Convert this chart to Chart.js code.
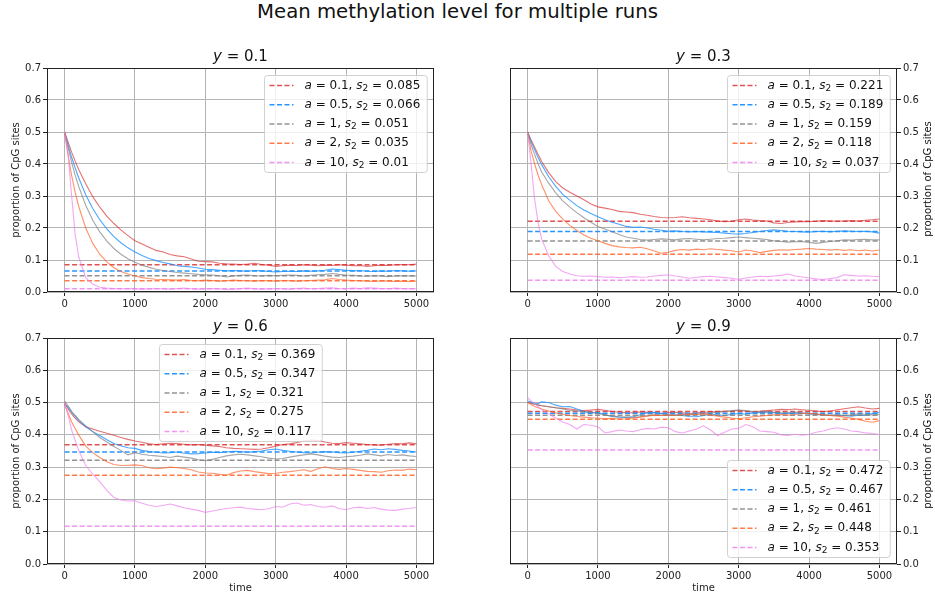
<!DOCTYPE html>
<html>
<head>
<meta charset="utf-8">
<script src="https://cdn.jsdelivr.net/npm/chart.js@4.4.1/dist/chart.umd.min.js"></script>
<style>
  body { margin: 0; background: #fff; width: 935px; height: 599px; position: relative; overflow: hidden; font-family: "DejaVu Sans", sans-serif; color: #111; }
  #sup { position: absolute; left: 0; top: 0px; width: 915px; text-align: center; font-size: 19.7px; line-height: 24px; }
  .ttl { position: absolute; width: 200px; text-align: center; font-size: 15px; line-height: 18px; }
  .ylab { position: absolute; width: 240px; text-align: center; font-size: 10px; line-height: 12px; transform: rotate(-90deg); }
  canvas { position: absolute; }
</style>
</head>
<body>
<div id="sup">Mean methylation level for multiple runs</div>

<script>
// time axis of the runs
const times = [0, 50, 100, 150, 200,
  300, 400, 500, 600, 700, 800, 900, 1000,
  1100, 1200, 1300, 1400, 1500, 1600, 1700, 1800, 1900, 2000,
  2100, 2200, 2300, 2400, 2500, 2600, 2700, 2800, 2900, 3000,
  3100, 3200, 3300, 3400, 3500, 3600, 3700, 3800, 3900, 4000,
  4100, 4200, 4300, 4400, 4500, 4600, 4700, 4800, 4900, 5000];

const xTicks = [0, 1000, 2000, 3000, 4000, 5000];
const yTicks = [0, 0.1, 0.2, 0.3, 0.4, 0.5, 0.6, 0.7];

const yValues = ['0.1', '0.3', '0.6', '0.9'];
const aLabels = ['0.1', '0.5', '1', '2', '10'];

// s2 (dashed reference levels) per panel
const s2_y01 = [0.085, 0.066, 0.051, 0.035, 0.01];
const s2_y03 = [0.221, 0.189, 0.159, 0.118, 0.037];
const s2_y06 = [0.369, 0.347, 0.321, 0.275, 0.117];
const s2_y09 = [0.472, 0.467, 0.461, 0.448, 0.353];

// ---- y = 0.1 ----
const y01_a01 = [.500,.468,.437,.409,.383,
  .338,.298,.265,.237,.214,.194,.176,.160,
  .150,.140,.130,.125,.117,.113,.110,.103,.096,.095,
  .094,.090,.088,.087,.086,.087,.090,.086,.084,.080,
  .082,.084,.083,.085,.084,.082,.084,.083,.085,.084,
  .082,.083,.080,.082,.084,.083,.085,.086,.085,.087];
const y01_a05 = [.500,.459,.421,.388,.357,
  .304,.261,.226,.197,.173,.154,.138,.125,
  .114,.105,.098,.092,.088,.082,.080,.078,.075,.071,
  .070,.068,.066,.067,.066,.065,.067,.066,.064,.063,
  .064,.065,.064,.066,.065,.066,.068,.072,.070,.068,
  .066,.067,.065,.064,.066,.065,.067,.066,.065,.066];
const y01_a1 = [.500,.450,.405,.365,.330,
  .271,.224,.188,.159,.136,.118,.104,.093,
  .084,.077,.071,.067,.064,.061,.059,.057,.055,.054,
  .053,.051,.047,.050,.052,.053,.051,.050,.052,.051,
  .052,.053,.052,.050,.052,.054,.055,.058,.055,.053,
  .052,.050,.049,.051,.050,.048,.050,.051,.050,.050];
const y01_a2 = [.500,.427,.364,.312,.268,
  .200,.152,.118,.094,.076,.064,.056,.050,
  .045,.042,.040,.039,.038,.037,.039,.036,.035,.037,
  .036,.034,.035,.037,.036,.035,.034,.036,.035,.034,
  .036,.035,.034,.035,.036,.037,.038,.042,.039,.037,
  .036,.035,.034,.033,.035,.034,.033,.034,.033,.034];
const y01_a10 = [.500,.430,.300,.180,.110,
  .045,.024,.015,.012,.011,.010,.011,.010,
  .009,.010,.011,.010,.009,.011,.012,.010,.009,.010,
  .011,.010,.008,.009,.011,.012,.010,.009,.010,.011,
  .010,.009,.011,.012,.010,.011,.012,.013,.011,.010,
  .012,.011,.013,.012,.011,.010,.012,.011,.010,.010];

// ---- y = 0.3 ----
const y03_a01 = [.500,.475,.452,.430,.408,
  .373,.345,.325,.312,.300,.288,.275,.266,
  .262,.258,.252,.250,.248,.243,.240,.236,.233,.232,
  .233,.235,.232,.230,.228,.226,.222,.220,.221,.226,
  .228,.225,.223,.222,.216,.214,.217,.219,.220,.220,
  .221,.223,.222,.221,.222,.223,.222,.224,.226,.228];
const y03_a05 = [.500,.470,.445,.420,.398,
  .360,.330,.305,.287,.270,.256,.245,.235,
  .226,.218,.212,.205,.202,.203,.200,.196,.193,.190,
  .191,.189,.188,.189,.188,.187,.186,.184,.182,.181,
  .183,.186,.189,.192,.194,.192,.190,.189,.188,.187,
  .189,.190,.188,.190,.191,.190,.189,.190,.188,.184];
const y03_a1 = [.500,.460,.430,.400,.375,
  .340,.310,.285,.265,.248,.232,.218,.205,
  .197,.188,.180,.172,.168,.164,.162,.164,.166,.165,
  .163,.166,.167,.165,.163,.165,.167,.168,.170,.172,
  .170,.168,.166,.164,.160,.158,.156,.157,.158,.155,
  .152,.155,.158,.160,.163,.162,.164,.165,.163,.163];
const y03_a2 = [.500,.440,.400,.365,.335,
  .285,.252,.228,.208,.192,.178,.168,.160,
  .152,.145,.141,.139,.138,.140,.135,.128,.121,.124,
  .130,.133,.131,.134,.132,.135,.133,.131,.129,.125,
  .131,.128,.123,.127,.130,.132,.131,.133,.134,.136,
  .134,.133,.131,.133,.130,.132,.129,.131,.128,.131];
const y03_a10 = [.500,.400,.290,.215,.165,
  .113,.080,.064,.056,.051,.049,.050,.048,
  .046,.047,.045,.046,.048,.046,.047,.050,.052,.054,
  .050,.047,.043,.046,.048,.049,.047,.045,.043,.040,
  .044,.047,.049,.048,.050,.052,.056,.050,.047,.044,
  .041,.039,.042,.045,.054,.052,.050,.051,.049,.048];

// ---- y = 0.6 ----
const y06_a01 = [.500,.480,.465,.452,.440,
  .425,.418,.411,.405,.399,.392,.386,.381,
  .377,.372,.370,.372,.374,.373,.371,.369,.370,.368,
  .366,.364,.360,.358,.357,.356,.355,.356,.360,.365,
  .370,.372,.376,.381,.384,.382,.378,.374,.373,.376,
  .374,.372,.370,.369,.368,.371,.373,.372,.375,.372];
const y06_a05 = [.495,.485,.470,.458,.445,
  .425,.410,.398,.385,.373,.366,.360,.358,
  .352,.348,.346,.344,.345,.347,.343,.341,.342,.344,
  .346,.345,.347,.349,.348,.346,.348,.350,.354,.356,
  .352,.349,.347,.345,.344,.346,.348,.347,.345,.344,
  .346,.349,.352,.356,.354,.357,.355,.352,.350,.347];
const y06_a1 = [.505,.490,.473,.460,.448,
  .428,.410,.392,.378,.364,.352,.338,.345,
  .340,.337,.335,.333,.330,.334,.331,.328,.323,.320,
  .324,.330,.335,.338,.340,.338,.335,.332,.328,.325,
  .327,.331,.335,.338,.341,.338,.334,.331,.330,.332,
  .334,.337,.341,.338,.335,.339,.336,.338,.335,.333];
const y06_a2 = [.495,.467,.440,.420,.400,
  .365,.345,.330,.317,.308,.305,.306,.307,
  .305,.298,.295,.297,.300,.298,.296,.292,.285,.282,
  .281,.278,.275,.283,.288,.290,.286,.283,.280,.281,
  .284,.286,.289,.292,.287,.295,.301,.296,.293,.296,
  .293,.290,.287,.286,.284,.289,.291,.290,.294,.292];
const y06_a10 = [.500,.460,.415,.383,.352,
  .305,.278,.255,.228,.206,.198,.195,.196,
  .188,.182,.178,.181,.186,.180,.174,.170,.166,.160,
  .164,.168,.172,.174,.176,.172,.170,.168,.171,.178,
  .176,.186,.189,.182,.184,.178,.176,.180,.172,.168,
  .174,.176,.172,.175,.170,.167,.166,.170,.172,.175];

// ---- y = 0.9 ----
const y09_a01 = [.500,.498,.495,.492,.490,
  .487,.484,.482,.480,.477,.475,.477,.479,
  .476,.472,.470,.468,.469,.471,.470,.468,.467,.469,
  .470,.468,.466,.468,.470,.471,.472,.473,.474,.476,
  .474,.471,.473,.475,.477,.479,.478,.480,.478,.476,
  .474,.472,.474,.478,.481,.484,.487,.483,.480,.482];
const y09_a05 = [.505,.502,.498,.497,.502,
  .500,.492,.487,.488,.480,.472,.468,.470,
  .462,.457,.455,.454,.456,.462,.468,.470,.466,.462,
  .461,.460,.457,.456,.460,.463,.462,.460,.463,.466,
  .464,.468,.470,.471,.469,.467,.466,.468,.467,.465,
  .463,.462,.460,.462,.460,.458,.461,.460,.466,.470];
const y09_a1 = [.500,.498,.495,.493,.490,
  .487,.484,.480,.476,.474,.472,.470,.466,
  .462,.458,.456,.455,.454,.456,.459,.462,.461,.460,
  .461,.463,.462,.464,.466,.468,.470,.472,.475,.477,
  .475,.472,.470,.472,.470,.468,.469,.471,.468,.466,
  .464,.462,.460,.461,.459,.462,.465,.463,.462,.463];
const y09_a2 = [.500,.494,.488,.484,.480,
  .474,.468,.464,.460,.457,.455,.453,.452,
  .450,.451,.449,.450,.452,.455,.458,.461,.460,.462,
  .460,.463,.465,.463,.465,.462,.458,.455,.452,.450,
  .453,.456,.458,.460,.462,.463,.461,.463,.466,.467,
  .465,.462,.460,.458,.455,.452,.448,.442,.439,.444];
const y09_a10 = [.515,.505,.496,.488,.478,
  .465,.452,.440,.432,.418,.432,.430,.425,
  .406,.410,.415,.412,.410,.416,.420,.418,.424,.422,
  .410,.406,.412,.418,.428,.415,.398,.408,.418,.420,
  .432,.425,.412,.410,.408,.400,.398,.402,.399,.401,
  .408,.412,.418,.422,.418,.412,.410,.406,.404,.401];

const lineColors = ['rgba(214,39,40,0.65)', 'rgba(30,144,255,0.8)', 'rgba(128,128,128,0.7)', 'rgba(255,99,40,0.7)', 'rgba(238,130,238,0.7)'];
const dashColors = ['rgba(214,39,40,0.8)', 'rgba(30,144,255,0.95)', 'rgba(128,128,128,0.85)', 'rgba(255,99,40,0.85)', 'rgba(238,130,238,0.85)'];

const FONT = '"DejaVu Sans", sans-serif';

// frame + legend drawn inside the axes like matplotlib
const axesDecor = {
  id: 'axesDecor',
  afterDatasetsDraw(chart, args, opts) {
    const ctx = chart.ctx, a = chart.chartArea;
    ctx.save();
    ctx.strokeStyle = '#222';
    ctx.lineWidth = 1;
    ctx.strokeRect(Math.round(a.left) + 0.5, Math.round(a.top) + 0.5,
      Math.round(a.right - a.left) - 1, Math.round(a.bottom - a.top) - 1);

    const fs = 12;
    const fUp = fs + 'px ' + FONT, fIt = 'italic ' + fs + 'px ' + FONT, fSub = Math.round(fs * 0.72) + 'px ' + FONT;
    const parts = i => [['a', fIt, 0], [' = ' + aLabels[i] + ', ', fUp, 0], ['s', fIt, 0], ['2', fSub, 3], [' = ' + opts.s2[i], fUp, 0]];
    const widthOf = ps => ps.reduce((w, p) => { ctx.font = p[1]; return w + ctx.measureText(p[0]).width; }, 0);
    const n = aLabels.length;
    const maxW = Math.max(...aLabels.map((_, i) => widthOf(parts(i))));
    const row = 19.25;
    const boxW = 5 + 24 + 11 + maxW + 7;
    const boxH = 20 + (n - 1) * row;
    let bx, by;
    if (opts.loc === 'upper right') { bx = a.right - 7 - boxW; by = a.top + 7; }
    else if (opts.loc === 'upper center') { bx = (a.left + a.right) / 2 - boxW / 2; by = a.top + 6; }
    else { bx = a.right - 7 - boxW; by = a.bottom - 7 - boxH; }
    bx = Math.round(bx) + 0.5; by = Math.round(by) + 0.5;

    ctx.beginPath();
    ctx.roundRect(bx, by, boxW, boxH, 3);
    ctx.fillStyle = 'rgba(255,255,255,0.8)';
    ctx.fill();
    ctx.strokeStyle = 'rgba(204,204,204,0.9)';
    ctx.stroke();

    for (let i = 0; i < n; i++) {
      const cy = by + 10 + i * row;
      ctx.beginPath();
      ctx.setLineDash([5, 2.5]);
      ctx.strokeStyle = dashColors[i];
      ctx.lineWidth = 1.5;
      ctx.moveTo(bx + 5, cy);
      ctx.lineTo(bx + 29, cy);
      ctx.stroke();
      ctx.setLineDash([]);
      let tx = bx + 40;
      ctx.fillStyle = '#111';
      ctx.textBaseline = 'middle';
      for (const p of parts(i)) {
        ctx.font = p[1];
        ctx.fillText(p[0], tx, cy + p[2]);
        tx += ctx.measureText(p[0]).width;
      }
    }
    ctx.restore();
  }
};

const panels = [
  { runs: [y01_a01, y01_a05, y01_a1, y01_a2, y01_a10], s2: s2_y01, title: yValues[0], left: 0, top: 60, w: 467, h: 250,
    pad: { left: 0, right: 33, top: 6, bottom: 0 }, yPos: 'left', xh: 18, loc: 'upper right', xlabel: false },
  { runs: [y03_a01, y03_a05, y03_a1, y03_a2, y03_a10], s2: s2_y03, title: yValues[1], left: 467, top: 60, w: 468, h: 250,
    pad: { left: 43, right: 0, top: 6, bottom: 0 }, yPos: 'right', xh: 18, loc: 'upper right', xlabel: false },
  { runs: [y06_a01, y06_a05, y06_a1, y06_a2, y06_a10], s2: s2_y06, title: yValues[2], left: 0, top: 330, w: 467, h: 269,
    pad: { left: 0, right: 33, top: 7, bottom: 0 }, yPos: 'left', xh: 35, loc: 'upper center', xlabel: true },
  { runs: [y09_a01, y09_a05, y09_a1, y09_a2, y09_a10], s2: s2_y09, title: yValues[3], left: 467, top: 330, w: 468, h: 269,
    pad: { left: 43, right: 0, top: 7, bottom: 0 }, yPos: 'right', xh: 35, loc: 'lower right', xlabel: true }
];

panels.forEach(p => {
  const cv = document.createElement('canvas');
  cv.width = p.w; cv.height = p.h;
  cv.style.left = p.left + 'px'; cv.style.top = p.top + 'px';
  cv.style.width = p.w + 'px'; cv.style.height = p.h + 'px';
  document.body.appendChild(cv);

  const datasets = [];
  p.runs.forEach((vals, i) => {
    datasets.push({
      data: times.map((t, k) => ({ x: t, y: vals[k] })),
      borderColor: lineColors[i], borderWidth: 1.1, pointRadius: 0, tension: 0, order: 100 - 2 * i
    });
    datasets.push({
      data: [{ x: times[0], y: p.s2[i] }, { x: times[times.length - 1], y: p.s2[i] }],
      borderColor: dashColors[i], borderWidth: 1.5, borderDash: [5, 2.5], pointRadius: 0, order: 99 - 2 * i
    });
  });

  const yLeft = p.yPos === 'left';
  new Chart(cv, {
    type: 'line',
    data: { datasets },
    plugins: [axesDecor],
    options: {
      responsive: false, animation: false, devicePixelRatio: 1,
      layout: { padding: p.pad },
      plugins: { legend: { display: false }, tooltip: { enabled: false }, axesDecor: { loc: p.loc, s2: p.s2 } },
      scales: {
        x: {
          type: 'linear', min: -250, max: 5250,
          afterBuildTicks: s => { s.ticks = xTicks.map(v => ({ value: v })); },
          afterFit: s => { s.height = p.xh; },
          grid: { color: '#b4b4b4', lineWidth: 1, tickLength: 4, tickColor: '#222' },
          border: { display: false },
          ticks: { autoSkip: false, maxRotation: 0, padding: 2, color: '#222', font: { family: FONT, size: 10 }, callback: v => String(v) },
          title: { display: p.xlabel, text: 'time', color: '#222', font: { family: FONT, size: 10 }, padding: { top: 0, bottom: 5 } }
        },
        y: {
          type: 'linear', position: p.yPos, min: 0, max: 0.7,
          afterBuildTicks: s => { s.ticks = yTicks.map(v => ({ value: v })); },
          afterFit: s => { s.width = yLeft ? 47 : 38; },
          grid: { color: '#b4b4b4', lineWidth: 1, tickLength: 4, tickColor: '#222' },
          border: { display: false },
          ticks: { padding: 2, color: '#222', font: { family: FONT, size: 10 }, callback: v => Number(v).toFixed(1) },
          title: { display: yLeft, text: 'proportion of CpG sites', color: '#222', font: { family: FONT, size: 10 }, padding: { top: 10, bottom: 0 } }
        }
      }
    }
  });

  // subplot title and right-hand axis label
  const area = yLeft ? { l: 47, r: 434 } : { l: 510, r: 897 };
  const cx = (area.l + area.r) / 2;
  const t = document.createElement('div');
  t.className = 'ttl';
  t.innerHTML = '<i>y</i> = ' + p.title;
  t.style.left = (cx - 100) + 'px';
  t.style.top = (p.top - 13) + 'px';
  document.body.appendChild(t);

  if (!yLeft) {
    const yl = document.createElement('div');
    yl.className = 'ylab';
    yl.textContent = 'proportion of CpG sites';
    const cy = p.top + p.pad.top + (p.h - p.pad.top - p.xh) / 2;
    yl.style.left = (928 - 120) + 'px';
    yl.style.top = (cy - 6) + 'px';
    document.body.appendChild(yl);
  }
});
</script>
</body>
</html>
